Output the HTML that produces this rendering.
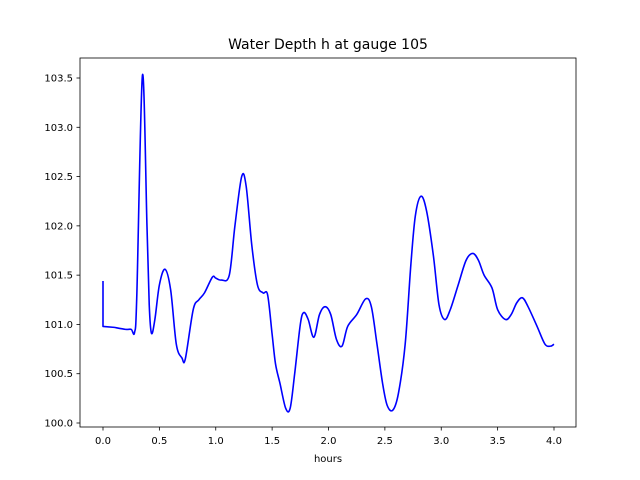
<!DOCTYPE html>
<html><head><meta charset="utf-8"><style>
body{margin:0;background:#fff}
svg{display:block;font-family:"DejaVu Sans","Liberation Sans",sans-serif}
</style></head><body>
<svg id="s" width="640" height="480" xmlns="http://www.w3.org/2000/svg">
<rect width="640" height="480" fill="#fff"/>
<text x="328" y="49" font-size="14" text-anchor="middle">Water Depth h at gauge 105</text>
<g id="ticks" font-size="10" fill="#000"></g>
<path id="curve" fill="none" stroke="#0000ff" stroke-width="1.6" stroke-linejoin="round"/>
<rect x="80" y="58" width="496" height="369" fill="none" stroke="#000" stroke-width="0.8"/>
<text x="328" y="462" font-size="10" text-anchor="middle">hours</text>
</svg>
<script>
var X=function(h){return 103+h*112.75},Y=function(v){return 423-(v-100)*98.57};
var t=document.getElementById('ticks'),out="";
for(var i=0;i<=8;i++){var h=i*0.5,x=X(h);out+='<line x1="'+x+'" y1="427" x2="'+x+'" y2="430.5" stroke="#000" stroke-width="0.8"/><text x="'+x+'" y="444" text-anchor="middle">'+h.toFixed(1)+'</text>';}
for(var i=0;i<=7;i++){var v=100+i*0.5,y=Y(v);out+='<line x1="76.5" y1="'+y+'" x2="80" y2="'+y+'" stroke="#000" stroke-width="0.8"/><text x="73" y="'+(y+3.5)+'" text-anchor="end">'+v.toFixed(1)+'</text>';}
t.innerHTML=out;
var p=[[0.1,100.97],[0.2,100.95],[0.25,100.95],[0.28,100.92],[0.3,101.3],[0.35,103.53],[0.39,102.0],[0.41,101.2],[0.43,100.91],[0.46,101.05],[0.5,101.4],[0.55,101.56],[0.6,101.35],[0.65,100.8],[0.7,100.66],[0.73,100.65],[0.8,101.15],[0.85,101.25],[0.9,101.32],[0.97,101.48],[1.0,101.47],[1.05,101.45],[1.12,101.5],[1.17,102.0],[1.23,102.5],[1.27,102.4],[1.32,101.8],[1.37,101.4],[1.42,101.32],[1.46,101.3],[1.5,100.9],[1.53,100.6],[1.57,100.4],[1.62,100.15],[1.66,100.15],[1.7,100.5],[1.75,101.0],[1.78,101.12],[1.82,101.05],[1.87,100.87],[1.92,101.1],[1.97,101.18],[2.02,101.1],[2.07,100.85],[2.12,100.78],[2.17,100.98],[2.25,101.1],[2.33,101.26],[2.38,101.18],[2.43,100.8],[2.48,100.4],[2.52,100.18],[2.57,100.13],[2.62,100.3],[2.68,100.8],[2.73,101.6],[2.77,102.1],[2.82,102.3],[2.87,102.15],[2.93,101.7],[2.98,101.2],[3.03,101.05],[3.08,101.15],[3.15,101.4],[3.22,101.65],[3.28,101.72],[3.33,101.65],[3.38,101.5],[3.45,101.37],[3.5,101.15],[3.57,101.05],[3.62,101.1],[3.67,101.22],[3.72,101.27],[3.77,101.18],[3.85,100.98],[3.92,100.8],[3.97,100.78],[4.0,100.8]];
var q=p.map(function(a){return [X(a[0]),Y(a[1])]});
var d="M"+X(0)+","+Y(101.44)+" L"+X(0)+","+Y(100.98)+" L"+q[0][0]+","+q[0][1];
for(var i=0;i<q.length-1;i++){var p0=q[Math.max(i-1,0)],p1=q[i],p2=q[i+1],p3=q[Math.min(i+2,q.length-1)];
d+=" C"+(p1[0]+(p2[0]-p0[0])/6)+","+(p1[1]+(p2[1]-p0[1])/6)+" "+(p2[0]-(p3[0]-p1[0])/6)+","+(p2[1]-(p3[1]-p1[1])/6)+" "+p2[0]+","+p2[1];}
document.getElementById('curve').setAttribute('d',d);
</script>
</body></html>
